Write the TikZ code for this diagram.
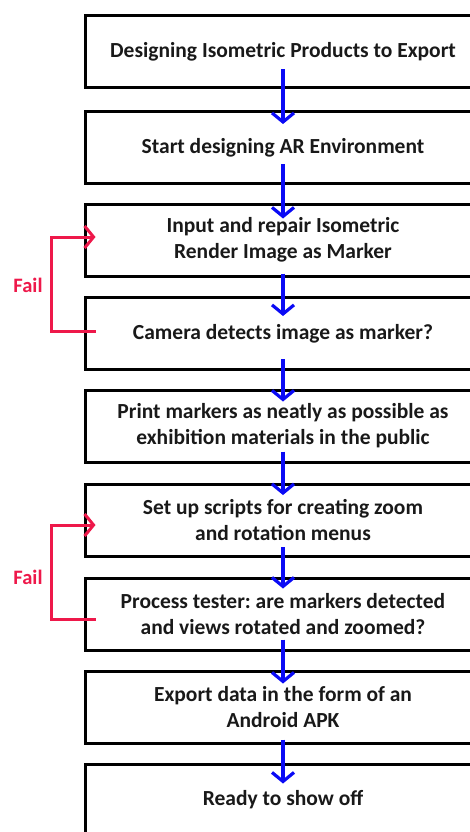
\documentclass[tikz,border=0pt]{standalone}
\usepackage{fontspec}
\setmainfont{Carlito}
\usetikzlibrary{arrows.meta}
\definecolor{failred}{RGB}{238,24,74}
\definecolor{flowblue}{RGB}{10,10,245}
\definecolor{txt}{RGB}{25,25,25}
\frenchspacing
\begin{document}
\begin{tikzpicture}[x=1pt,y=-1pt,
  stepbox/.style={draw=black,line width=3pt,minimum width=396pt,minimum height=72pt,
    align=center,text=txt,font=\fontsize{21.5}{26}\selectfont\bfseries,inner sep=0pt},
  flow/.style={draw=flowblue,line width=3.2pt,-{Straight Barb[length=9pt,width=22pt,line width=3.2pt]}},
  failarrow/.style={draw=failred,line width=3pt,-{Straight Barb[length=9pt,width=22pt,line width=3pt]}},
  faillabel/.style={text=failred,font=\fontsize{20.5}{22}\selectfont\bfseries}]
\useasboundingbox (0,0) rectangle (470,832);
\node[stepbox] (b1) at (283,52) {Designing Isometric Products to Export};
\node[stepbox] (b2) at (283,147.5) {Start designing AR Environment};
\node[stepbox] (b3) at (283,240) {Input and repair Isometric\\Render Image as Marker};
\node[stepbox] (b4) at (283,333.5) {Camera detects image as marker?};
\node[stepbox] (b5) at (283,426) {Print markers as neatly as possible as\\exhibition materials in the public};
\node[stepbox] (b6) at (283,520.5) {Set up scripts for creating zoom\\and rotation menus};
\node[stepbox] (b7) at (283,614) {Process tester: are markers detected\\and views rotated and zoomed?};
\node[stepbox] (b8) at (283,707) {Export data in the form of an\\Android APK};
\node[stepbox] (b9) at (283,800) {Ready to show off};
\draw[flow] ([yshift=20pt]b1.south) -- ([yshift=-14pt]b2.north);
\draw[flow] ([yshift=21pt]b2.south) -- ([yshift=-16pt]b3.north);
\draw[flow] ([yshift=4pt]b3.south) -- ([yshift=-20pt]b4.north);
\draw[flow] ([yshift=12pt]b4.south) -- ([yshift=-13pt]b5.north);
\draw[flow] ([yshift=12pt]b5.south) -- ([yshift=-12pt]b6.north);
\draw[flow] ([yshift=11pt]b6.south) -- ([yshift=-12pt]b7.north);
\draw[flow] ([yshift=12pt]b7.south) -- ([yshift=-14pt]b8.north);
\draw[flow] ([yshift=5pt]b8.south) -- ([yshift=-21pt]b9.north);
\draw[failarrow] ([xshift=12pt,yshift=2pt]b4.west) -- ++(-44,0) |- ([xshift=12pt,yshift=3pt]b3.west);
\draw[failarrow] ([xshift=12pt,yshift=-5pt]b7.west) -- ++(-44,0) |- ([xshift=12pt,yshift=-4.5pt]b6.west);
\node[faillabel] (f1) at (28,285) {Fail};
\node[faillabel] (f2) at (28,577) {Fail};
\end{tikzpicture}
\end{document}
